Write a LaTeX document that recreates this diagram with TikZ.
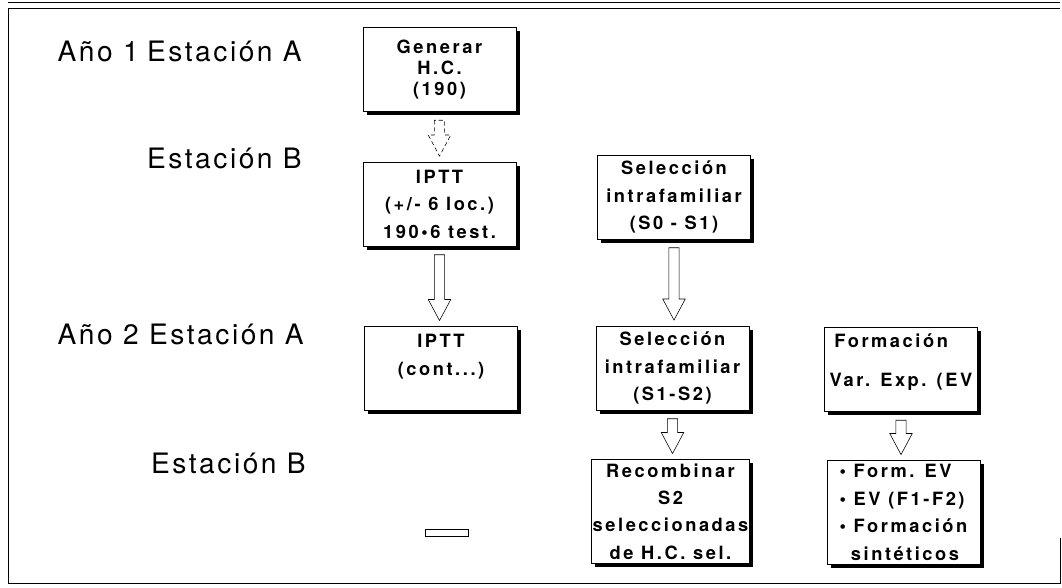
\documentclass[tikz,border=0pt]{standalone}
\usepackage{fontspec}
\setmainfont{TeX Gyre Heros}
\newfontfamily\stagefont[LetterSpace=9]{TeX Gyre Heros}
\newfontfamily\spacedfont[LetterSpace=14]{TeX Gyre Heros}
\usetikzlibrary{shadows,calc}

% hollow block arrow from the bottom of one box to the top of the next
\newcommand{\flowarrow}[3][]{%
  \draw[blockarrow,#1] let \p1=(#2.south), \p2=(#3.north) in
    (\x1-3.6pt,\y1-6pt) -- (\x1-3.6pt,\y2+19pt) -- (\x1-8pt,\y2+19pt) -- (\x1,\y2+4pt)
    -- (\x1+8pt,\y2+19pt) -- (\x1+3.6pt,\y2+19pt) -- (\x1+3.6pt,\y1-6pt) -- cycle;}

\begin{document}
\begin{tikzpicture}[x=0.025cm,y=-0.025cm,
    stage/.style={font=\stagefont\fontsize{20}{23}\selectfont,anchor=base east,inner sep=0pt},
    taskbox/.style={draw,thin,fill=white,
      drop shadow={shadow xshift=2.5pt,shadow yshift=-2.5pt,opacity=1,fill=black},
      minimum width=3.825cm,minimum height=2.1cm,align=center,inner sep=1pt,
      font=\spacedfont\bfseries\fontsize{13}{19.5}\selectfont},
    blockarrow/.style={draw,thin,fill=white}]
  \useasboundingbox (0,0) rectangle (1062,587);

  % frame
  \draw[thin] (1060,538) -- (1060,583) -- (8,583) -- (8,8) -- (1060,8);
  \draw[thin] (8,2) -- (1060,2);

  % years and stations
  \node[stage] (y1) at (139,61) {Año 1};
  \node[stage] (s1a) at (302,61) {Estación A};
  \node[stage] (s1b) at (302,168) {Estación B};
  \node[stage] (y2) at (139,344) {Año 2};
  \node[stage] (s2a) at (304,344) {Estación A};
  \node[stage] (s2b) at (306,473) {Estación B};

  % boxes
  \node[taskbox,font=\spacedfont\bfseries\fontsize{13}{15}\selectfont] (gen) at (439.5,69.5) {Generar\\H.C.\\(190)};
  \node[taskbox] (iptt) at (439.5,204) {IPTT\\(+/- 6 loc.)\\190•6 test.};
  \node[taskbox] (selA) at (674,197) {Selección\\intrafamiliar\\(S0 - S1)};
  \node[taskbox] (cont) at (441,368.5) {IPTT\\(cont...)\\~};
  \node[taskbox] (selB) at (672.5,368) {Selección\\intrafamiliar\\(S1-S2)};
  \node[taskbox] (form) at (901,369.5) {Formación\hspace*{14pt}\\[8pt]Var. Exp. (EV\\[-6pt]~};
  \node[taskbox,minimum height=2.6cm] (recomb) at (670.5,511.5) {Recombinar\\S2\\seleccionadas\\de H.C. sel.};
  \node[taskbox,minimum height=2.6cm,align=left] (formev) at (903.5,512.5) {• Form. EV\\• EV (F1-F2)\\• Formación\\\hspace*{8pt}sintéticos};

  % arrows
  \flowarrow[densely dashed]{gen}{iptt}
  \flowarrow{iptt}{cont}
  \flowarrow{selA}{selB}
  \flowarrow{selB}{recomb}
  \flowarrow{form}{formev}

  \draw[thin] (425,529) rectangle (468,536);
\end{tikzpicture}
\end{document}
